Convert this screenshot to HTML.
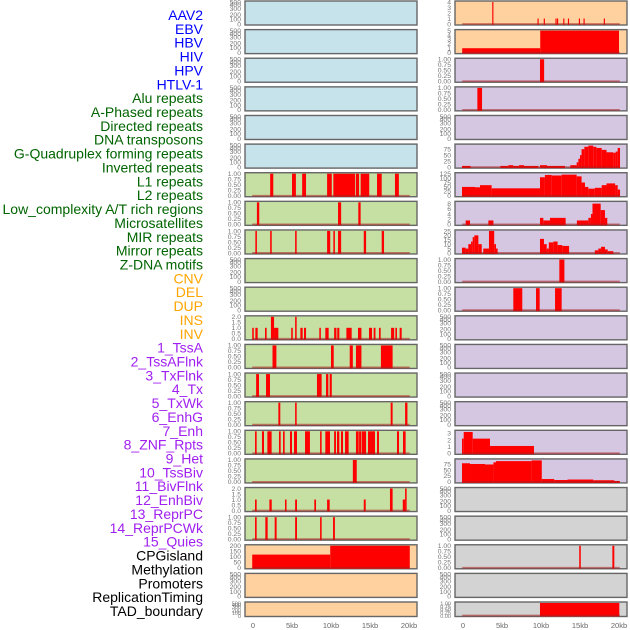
<!DOCTYPE html>
<html><head><meta charset="utf-8"><style>
html,body{margin:0;padding:0;background:#fff;width:630px;height:630px;overflow:hidden}
svg{display:block;font-family:"Liberation Sans",sans-serif}
</style></head><body>
<svg id="chart" width="630" height="630" viewBox="0 0 630 630"></svg>
<script>
const trackLabels = ["AAV2","EBV","HBV","HIV","HPV","HTLV-1","Alu repeats","A-Phased repeats","Directed repeats","DNA transposons","G-Quadruplex forming repeats","Inverted repeats","L1 repeats","L2 repeats","Low_complexity A/T rich regions","Microsatellites","MIR repeats","Mirror repeats","Z-DNA motifs","CNV","DEL","DUP","INS","INV","1_TssA","2_TssAFlnk","3_TxFlnk","4_Tx","5_TxWk","6_EnhG","7_Enh","8_ZNF_Rpts","9_Het","10_TssBiv","11_BivFlnk","12_EnhBiv","13_ReprPC","14_ReprPCWk","15_Quies","CPGisland","Methylation","Promoters","ReplicationTiming","TAD_boundary"];
const labelGroups = [0,0,0,0,0,0,1,1,1,1,1,1,1,1,1,1,1,1,1,2,2,2,2,2,3,3,3,3,3,3,3,3,3,3,3,3,3,3,3,4,4,4,4,4];
const groupColors = ["#0000ff","#006400","#ffa500","#a020f0","#000000"];
const xTickValues = [0,5,10,15,20];
const xTickLabels = ["0","5kb","10kb","15kb","20kb"];
const ticksEmpty = ["0","100","200","300","400","500"];
const ticksUnit = ["0.00","0.25","0.50","0.75","1.00"];
const ticksTwo = ["0.0","0.5","1.0","1.5","2.0"];

// segments: [startKb, endKb, value]
const L6 = [[2.2,2.6,1],[5.0,5.5,1],[6.3,6.8,1],[9.5,10.1,1],[10.3,13.1,1],[13.2,13.6,1],[13.8,14.9,1],[15.9,16.5,1],[18.2,18.7,1]];
const L7 = [[0.5,0.8,1],[10.9,11.3,1],[13.5,13.8,1]];
const L8 = [[0.3,0.5,1],[2.2,2.4,1],[5.4,5.6,1],[9.5,9.9,1],[10.3,10.5,1],[10.9,11.3,1],[14.2,14.5,1],[16.5,16.8,1]];
const L11 = [[-0.1,0.1,1],[0.3,0.6,1],[1.54,1.75,1],[2.3,2.7,2],[2.7,3.25,1],[4.9,5.1,1],[5.4,5.6,2],[6.07,6.37,1],[6.54,6.8,1],[8.5,8.7,1],[9.27,9.7,1],[10.4,10.7,1],[10.8,11.07,1],[11.97,12.65,1],[13.46,13.9,1],[14.87,15.26,1],[15.47,15.7,1],[16.15,16.37,1],[17.7,18.1,1],[18.25,18.46,1],[18.8,19.06,1]];
const L12 = [[2.5,3.0,1],[10.0,10.35,1],[12.4,12.8,1],[13.2,13.9,1],[16.4,17.9,1]];
const L13 = [[0.4,0.77,1],[1.67,2.18,1],[8.2,8.8,1],[9.36,9.66,1],[9.83,10.1,1]];
const L14 = [[3.25,3.5,1],[5.4,5.6,1],[17.65,17.9,1],[19.5,19.8,1]];
const L15 = [[0.26,0.47,1],[1.15,1.41,1],[1.84,2.39,1],[3.33,3.55,1],[3.85,4.06,1],[4.74,5.0,1],[5.26,5.64,1],[6.67,7.3,1],[8.6,8.8,1],[9.27,9.87,1],[10.4,10.64,1],[10.77,11.07,1],[11.28,11.54,1],[11.8,12.26,1],[13.2,13.55,1],[13.6,13.9,1],[13.97,14.5,1],[14.74,15.64,1],[15.9,16.15,1],[18.46,18.72,1],[19.23,19.57,1]];
const L16 = [[12.8,13.3,1]];
const L17 = [[0.26,0.47,1],[2.1,2.4,1],[4.1,4.3,1],[5.4,5.64,1],[7.86,8.08,1],[9.5,9.83,1],[14.2,14.45,1],[17.56,17.9,2],[19.2,19.5,1],[19.5,19.7,2]];
const L18 = [[0.26,0.47,1],[1.58,1.88,1],[2.78,3.03,1],[5.4,5.64,1],[8.6,8.8,1],[10.26,10.5,1]];
const L19 = [[-0.1,9.9,120],[9.9,20.1,200]];

const R0 = [[3.75,3.9,4],[9.55,9.7,1],[10.35,10.5,1],[11.85,12.0,1],[12.05,12.2,1],[12.85,13.0,1],[13.45,13.6,1],[14.85,15.0,1],[15.45,15.6,1],[18.05,18.2,1]];
const R1 = [[-0.1,9.9,1],[9.9,20.0,5]];
const R2 = [[9.87,10.4,1]];
const R3 = [[1.84,2.44,1]];
const R5 = [[-0.13,0.98,5],[4.79,5.81,5],[5.81,6.45,8],[6.45,7.18,5],[7.18,7.82,8],[7.82,9.66,5],[9.87,10.77,8],[10.77,13.08,5],[13.76,14.57,8],[14.57,14.79,20],[14.79,15.0,35],[15.0,15.2,50],[15.2,15.56,75],[15.56,16.07,85],[16.07,16.7,90],[16.7,17.1,85],[17.1,17.78,80],[17.78,18.4,72],[18.4,19.27,62],[19.27,19.57,60],[19.57,19.83,65],[19.83,20.13,80]];
const R6 = [[-0.13,1.54,50],[1.54,2.18,48],[2.18,3.67,60],[3.67,9.87,42],[9.87,10.5,105],[10.5,11.37,118],[11.37,12.65,115],[12.65,14.57,120],[14.57,15.2,110],[15.2,15.64,75],[15.64,16.07,50],[16.07,16.9,40],[16.9,17.78,45],[17.78,18.4,60],[18.4,19.5,70],[19.5,19.83,60],[19.83,20.13,35]];
const R7 = [[0.34,0.9,1.5],[3.25,3.9,1.5],[9.87,10.3,2.5],[10.3,11.15,1.5],[11.15,13.16,2.5],[14.6,16.07,1.5],[16.07,16.4,2.5],[16.4,16.6,4],[16.6,17.65,8],[17.65,18.2,5.5],[18.2,18.5,2.5]];
const R8 = [[-0.13,0.34,6],[0.34,0.68,5],[0.68,1.03,10],[1.03,1.24,13],[1.24,1.45,18],[1.45,1.97,20],[1.97,2.4,10],[2.6,3.33,5],[3.33,4.0,25],[4.0,4.23,10],[4.23,4.44,5],[9.87,10.38,16],[10.38,10.73,10],[10.73,11.0,5],[11.0,11.58,12],[11.58,12.13,13],[12.13,12.73,9],[12.73,13.6,8],[16.9,17.35,3],[17.35,17.7,5],[17.7,18.2,7],[18.2,18.55,4],[18.55,19.27,2]];
const R9 = [[12.35,13.0,1]];
const R10 = [[6.45,7.6,1],[9.36,9.83,1],[11.8,12.65,1]];
const R15 = [[-0.13,0.09,2.2],[0.09,1.24,3.2],[1.24,3.46,2.2],[3.46,9.1,1.1]];
const R16 = [[-0.13,0.9,78],[0.9,2.82,75],[2.82,3.9,73],[3.9,4.23,82],[4.23,8.8,87],[8.8,10.1,90],[10.1,11.7,12],[11.7,13.4,8],[13.4,16.7,10],[16.7,19.4,7],[19.4,20.1,4]];
const R19 = [[14.9,15.1,1],[19.15,19.4,1]];
const R21 = [[9.87,20.04,1]];

const BLUE="#c6e2ea", GREEN="#c6e0a4", ORANGE="#ffd19f", PURPLE="#d5c6e2", GRAY="#d3d3d3";
const leftTracks = [];
const rightTracks = [];
for (let i=0;i<22;i++){
  leftTracks.push({bg: i<6?BLUE:(i<19?GREEN:ORANGE), segs:null, ymax:1, ticks:ticksEmpty, empty:true});
  rightTracks.push({bg: i<2?ORANGE:(i<17?PURPLE:GRAY), segs:null, ymax:1, ticks:ticksEmpty, empty:true});
}
function setT(arr,i,segs,ymax,ticks,tickVals){arr[i].segs=segs;arr[i].ymax=ymax;arr[i].ticks=ticks;arr[i].tickVals=tickVals;arr[i].empty=false;}
setT(leftTracks,6,L6,1,ticksUnit,[0,.25,.5,.75,1]);
setT(leftTracks,7,L7,1,ticksUnit,[0,.25,.5,.75,1]);
setT(leftTracks,8,L8,1,ticksUnit,[0,.25,.5,.75,1]);
setT(leftTracks,11,L11,2,ticksTwo,[0,.5,1,1.5,2]);
setT(leftTracks,12,L12,1,ticksUnit,[0,.25,.5,.75,1]);
setT(leftTracks,13,L13,1,ticksUnit,[0,.25,.5,.75,1]);
setT(leftTracks,14,L14,1,ticksUnit,[0,.25,.5,.75,1]);
setT(leftTracks,15,L15,1,ticksUnit,[0,.25,.5,.75,1]);
setT(leftTracks,16,L16,1,ticksUnit,[0,.25,.5,.75,1]);
setT(leftTracks,17,L17,2,ticksTwo,[0,.5,1,1.5,2]);
setT(leftTracks,18,L18,1,ticksUnit,[0,.25,.5,.75,1]);
setT(leftTracks,19,L19,200,["0","50","100","150","200"],[0,50,100,150,200]);
setT(rightTracks,0,R0,4,["0","1","2","3","4"],[0,1,2,3,4]);
setT(rightTracks,1,R1,5,["0","1","2","3","4","5"],[0,1,2,3,4,5]);
setT(rightTracks,2,R2,1,ticksUnit,[0,.25,.5,.75,1]);
setT(rightTracks,3,R3,1,ticksUnit,[0,.25,.5,.75,1]);
setT(rightTracks,5,R5,92,["0","25","50","75"],[0,25,50,75]);
setT(rightTracks,6,R6,125,["0","25","50","75","100","125"],[0,25,50,75,100,125]);
setT(rightTracks,7,R7,8.5,["0","2","4","6","8"],[0,2,4,6,8]);
setT(rightTracks,8,R8,25,["0","5","10","15","20","25"],[0,5,10,15,20,25]);
setT(rightTracks,9,R9,1,ticksUnit,[0,.25,.5,.75,1]);
setT(rightTracks,10,R10,1,ticksUnit,[0,.25,.5,.75,1]);
setT(rightTracks,15,R15,3.3,["0","1","2","3"],[0,1,2,3]);
setT(rightTracks,16,R16,92,["0","25","50","75"],[0,25,50,75]);
setT(rightTracks,19,R19,1,ticksUnit,[0,.25,.5,.75,1]);
setT(rightTracks,21,R21,1,ticksUnit,[0,.25,.5,.75,1]);

const NS="http://www.w3.org/2000/svg";
const svg=document.getElementById('chart');
function el(tag,attrs,parent){const e=document.createElementNS(NS,tag);for(const k in attrs)e.setAttribute(k,attrs[k]);(parent||svg).appendChild(e);return e;}
const emptyFrac=[0,0.22,0.43,0.7,0.87,1];

trackLabels.forEach((t,i)=>{
  const tx=el('text',{x:203,y:20+i*13.86,'text-anchor':'end','font-size':14,fill:groupColors[labelGroups[i]]});
  
  
  tx.textContent=t;
});

function xScale(colX0,kb){return colX0+8+kb*7.8;}
function rowTop(i){return i<21?1+i*28.62:602;}
function rowH(i){return i<21?24:14.5;}

function drawColumn(tracks,px,colName){
  const pw=172, x0=px;
  tracks.forEach((tr,i)=>{
    const top=rowTop(i), h=rowH(i);
    const g=el('g',{});
    
    
    el('rect',{x:x0,y:top,width:pw,height:h,fill:tr.bg,stroke:'#666',"stroke-width":1.4},g);
    const yS=v=>top+h-1-(v/tr.ymax)*(h-2);
    const fs=h<20?5.5:6.8;
    tr.ticks.forEach((lab,k)=>{
      let yy;
      if(tr.empty) yy=top+h-1-emptyFrac[k]*(h-2);
      else yy=yS(tr.tickVals[k]);
      const t=el('text',{x:x0-4,y:yy+2.3,'text-anchor':'end','font-size':fs,fill:'#777'},g);
      
      
      t.textContent=lab;
    });
    if(tr.segs){
      tr.segs.forEach(s=>{
        const xa=xScale(x0,s[0]), xb=xScale(x0,s[1]);
        const r=el('rect',{x:xa,y:yS(s[2]),width:Math.max(1,xb-xa),height:yS(0)-yS(s[2])+1,fill:'#ff0000'},g);
        
        
      });
      const bl=el('line',{x1:xScale(x0,-0.1),x2:xScale(x0,20.1),y1:yS(0),y2:yS(0),stroke:'rgba(170,30,30,0.55)','stroke-width':1.8},g);
      
      
    }
  });
  xTickValues.forEach((v,k)=>{
    const t=el('text',{x:xScale(x0,v),y:628,'text-anchor':'middle','font-size':7.5,fill:'#666'});
    
    
    t.textContent=xTickLabels[k];
  });
}
drawColumn(leftTracks,245,'left');
drawColumn(rightTracks,455,'right');
</script>
</body></html>
